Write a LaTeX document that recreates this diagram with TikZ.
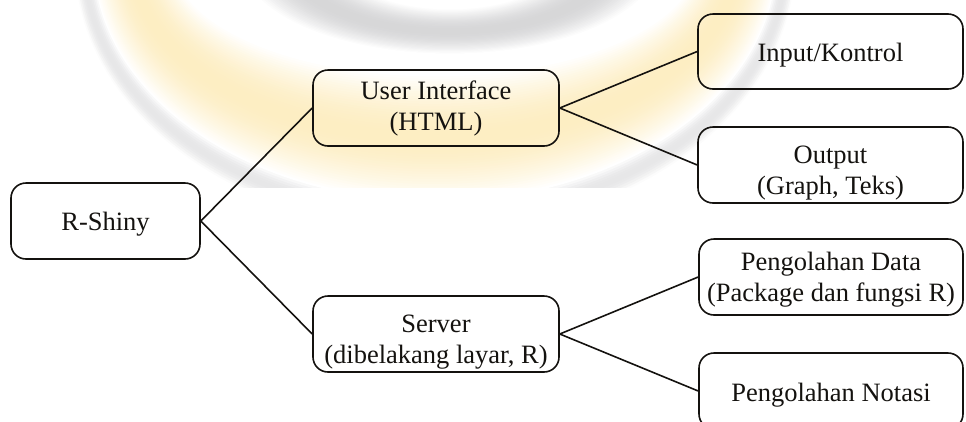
\documentclass[tikz,border=0pt]{standalone}
\usepackage{fontspec}
\setmainfont{Liberation Serif}
\definecolor{wmY}{RGB}{250,212,105}
\definecolor{wmG}{RGB}{120,120,125}
\definecolor{inkc}{RGB}{20,18,15}
\newcommand\lowtxt[2]{\raisebox{-#1}[\height][\depth]{\begin{tabular}{@{}c@{}}#2\end{tabular}}}
\begin{document}
\begin{tikzpicture}[x=1pt,y=-1pt,
  box/.style={draw=inkc, rounded corners=15pt, line width=1.6pt, align=center,
    minimum height=76pt, inner sep=0pt, text=inkc,
    font=\fontsize{26.5}{31}\selectfont},
  link/.style={draw=inkc, line width=1.6pt}]
\useasboundingbox (0,0) rectangle (966,421);
% faint watermark in the background
\begin{scope}
  \clip (0,0) rectangle (966,187);
  \foreach \i in {0,...,62}{
    \pgfmathsetmacro\t{1.24-\i*0.02}
    \pgfmathsetmacro\rx{261+79*\t}
    \pgfmathsetmacro\ry{115+125*\t}
    \pgfmathsetmacro\p{\t>1 ? 18*sin(180*(\t-1)/0.25) : 40*sin(180*\t)}
    \ifdim\t pt>1pt
      \draw[line width=3pt, color=wmG!\p!white] (435,-40) ellipse [x radius=\rx pt, y radius=\ry pt];
    \else
      \draw[line width=3pt, color=wmY!\p!white] (435,-40) ellipse [x radius=\rx pt, y radius=\ry pt];
    \fi
  }
  \foreach \i in {0,...,40}{
    \pgfmathsetmacro\s{\i*0.025}
    \pgfmathsetmacro\rx{110+100*\s}
    \pgfmathsetmacro\ry{50+45*\s}
    \pgfmathsetmacro\p{30*sin(180*\s)}
    \draw[line width=3pt, color=wmG!\p!white] (450,-40) ellipse [x radius=\rx pt, y radius=\ry pt];
  }
\end{scope}
% nodes
\node[box, minimum width=189pt] (shiny) at (105.5,221) {\lowtxt{3pt}{R-Shiny}};
\node[box, minimum width=246pt] (ui) at (436,108) {\lowtxt{1pt}{User Interface\\(HTML)}};
\node[box, minimum width=246pt] (server) at (436,334) {\lowtxt{8pt}{Server\\(dibelakang layar, R)}};
\node[box, minimum width=265pt, minimum height=75pt] (input) at (830.5,51.5) {\lowtxt{3.5pt}{Input/Kontrol}};
\node[box, minimum width=265pt] (output) at (830.5,165) {\lowtxt{8pt}{Output\\(Graph, Teks)}};
\node[box, minimum width=264pt] (pdata) at (831,277) {\lowtxt{3pt}{Pengolahan Data\\(Package dan fungsi R)}};
\node[box, minimum width=264pt] (pnot) at (831,391) {\lowtxt{4pt}{Pengolahan Notasi}};
% connectors
\draw[link] (shiny.east) -- (ui.west);
\draw[link] (shiny.east) -- (server.west);
\draw[link] (ui.east) -- (input.west);
\draw[link] (ui.east) -- (output.west);
\draw[link] (server.east) -- (pdata.west);
\draw[link] (server.east) -- (pnot.west);
\end{tikzpicture}
\end{document}
